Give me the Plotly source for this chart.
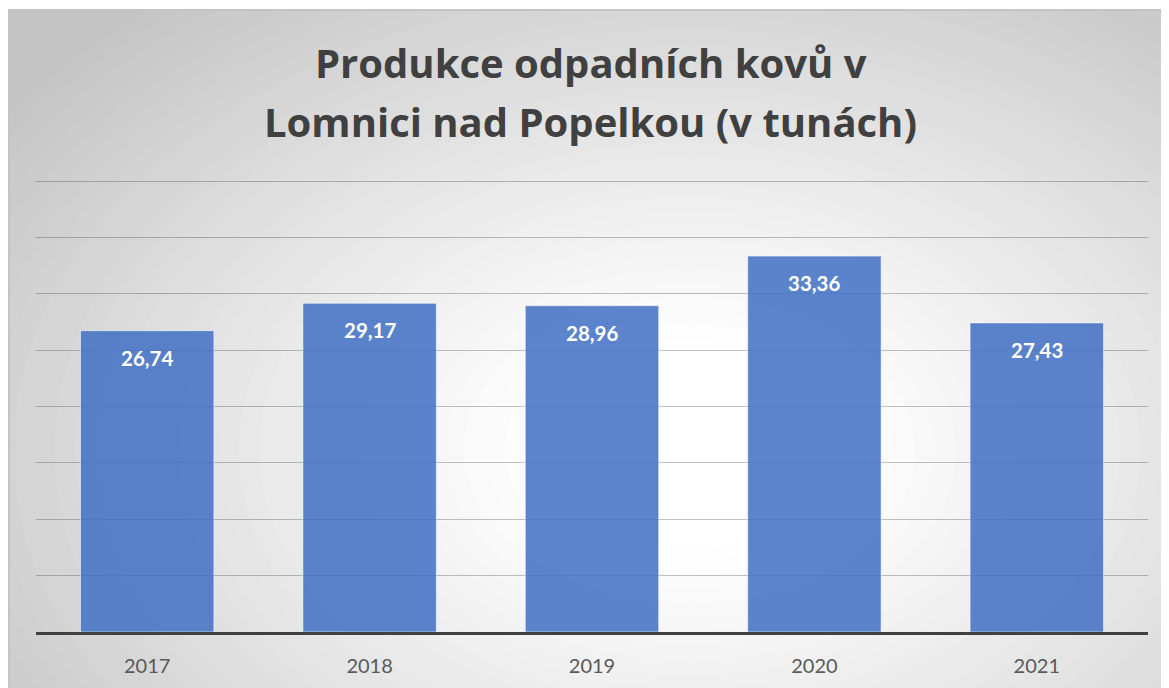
import plotly.graph_objects as go

years = ["2017", "2018", "2019", "2020", "2021"]
tons = [26.74, 29.17, 28.96, 33.36, 27.43]
title_lines = ["Produkce odpadních kovů v", "Lomnici nad Popelkou (v tunách)"]

# page body has an 8px margin, so the figure sits 8px in from the window corner
OFF = 8
W, H = 1169 - OFF, 688 - OFF
L, R, T, B = 28, 20.5, 171, 56
pw, ph = W - L - R, H - T - B


def px_x(x):
    # screen pixel -> paper
    return (x - OFF - L) / pw


def px_y(y):
    return (H - B - (y - OFF)) / ph


# radial gradient background made of concentric ellipses
shapes = []
steps = 60
cx, cy = 690, 450
rx, ry = 820, 560
edge, r0, rmax = 196, 0.18, 1.5
for i in range(steps):
    r = rmax * (1 - i / steps)
    t = min(max((r - r0) / (1.05 - r0), 0), 1)
    g = int(round(255 - (255 - edge) * t ** 1.1))
    shapes.append(dict(
        type="circle", xref="paper", yref="paper", layer="below",
        x0=px_x(cx - rx * r), x1=px_x(cx + rx * r),
        y0=px_y(cy + ry * r), y1=px_y(cy - ry * r),
        fillcolor=f"rgb({g},{g},{g})", line=dict(width=0),
    ))
# white strip above the chart box
shapes.append(dict(type="rect", xref="paper", yref="paper", layer="below",
                   x0=px_x(0), x1=px_x(1200), y0=px_y(10), y1=px_y(-10),
                   fillcolor="white", line=dict(width=0)))
# chart area border
shapes.append(dict(type="rect", xref="paper", yref="paper", layer="below",
                   x0=px_x(OFF + 1), x1=px_x(1200), y0=px_y(720), y1=px_y(10),
                   line=dict(color="#c4c4c4", width=2), fillcolor="rgba(0,0,0,0)"))

fig = go.Figure(go.Bar(
    x=years, y=tons,
    marker=dict(color="rgba(68,114,196,0.87)", line=dict(color="rgba(255,255,255,0.55)", width=1)),
    width=0.6,
    hoverinfo="x+y",
))

# value labels just under the top of each bar
for i, v in enumerate(tons):
    fig.add_annotation(x=i, y=v, text=f"{v:.2f}".replace(".", ","),
                       showarrow=False, yanchor="middle", yshift=-27,
                       font=dict(family="Lato", size=20.5, color="white", weight="bold"))

title_y = [62, 121]
for line, ty in zip(title_lines, title_y):
    fig.add_annotation(xref="paper", yref="paper", x=px_x(591), y=px_y(ty),
                       xanchor="center", yanchor="middle", text=line, showarrow=False,
                       font=dict(family="Open Sans", size=40, color="#404040", weight="bold"))

fig.update_layout(
    width=W, height=H,
    margin=dict(l=L, r=R, t=T, b=B, pad=0),
    paper_bgcolor="white",
    plot_bgcolor="rgba(0,0,0,0)",
    shapes=shapes,
    showlegend=False,
    font=dict(family="Lato"),
)
fig.update_xaxes(
    type="category", range=[-0.5, len(years) - 0.5],
    showgrid=False, showline=True, linecolor="#404040", linewidth=3,
    tickfont=dict(size=20, color="#595959"), ticks="", ticklabelstandoff=14,
)
fig.update_yaxes(
    range=[0, 40.2], dtick=5, showgrid=True, gridcolor="rgba(0,0,0,0.24)", gridwidth=1,
    showticklabels=False, zeroline=False, showline=False,
)

fig.write_html("out.html")
